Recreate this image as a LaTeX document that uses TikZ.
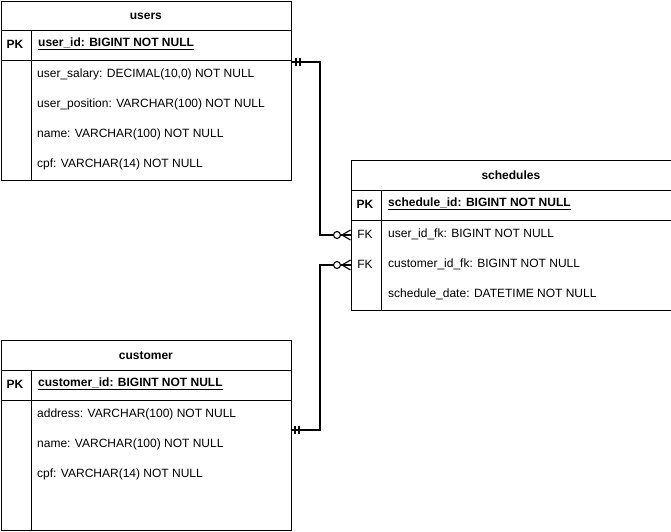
\documentclass[tikz,border=0pt]{standalone}
\usepackage{fontspec}
\setmainfont{Liberation Sans}
\begin{document}
\begin{tikzpicture}[x=1pt,y=-1pt,
  cell/.style={draw=black, line width=0.8pt, inner sep=0pt, anchor=north west},
  tabtitle/.style={cell, font=\fontsize{12}{14}\selectfont\bfseries},
  keytxt/.style={inner sep=0pt, font=\fontsize{12}{14}\selectfont\bfseries},
  fktxt/.style={inner sep=0pt, font=\fontsize{12}{14}\selectfont},
  pktxt/.style={inner sep=0pt, anchor=west, font=\fontsize{12}{14}\selectfont\bfseries},
  fieldtxt/.style={inner sep=0pt, anchor=west, font=\fontsize{12}{14}\selectfont},
  rel/.style={line width=1.4pt, black},
  relmark/.style={line width=1.1pt, black}
]
\useasboundingbox (0,0) rectangle (671,531);

% users
\node[tabtitle, minimum width=290pt, minimum height=29pt] (uT) at (0.5,1) {users};
\node[cell, minimum width=30pt, minimum height=30pt] (uPKk) at (0.5,30) {};
\node[cell, minimum width=260pt, minimum height=30pt] (uPKf) at (30.5,30) {};
\node[cell, minimum width=30pt, minimum height=120pt] (uBk) at (0.5,60) {};
\node[cell, minimum width=260pt, minimum height=120pt] (uBf) at (30.5,60) {};
\node[keytxt] (uPKl) at (15,44) {PK};
\node[pktxt] (uPKt) at (38,44) {\underline{user\_id: BIGINT NOT NULL}};
\node[fieldtxt] (uF1) at (37,74) {user\_salary: DECIMAL(10,0) NOT NULL};
\node[fieldtxt] (uF2) at (37,104) {user\_position: VARCHAR(100) NOT NULL};
\node[fieldtxt] (uF3) at (37,134) {name: VARCHAR(100) NOT NULL};
\node[fieldtxt] (uF4) at (37,164) {cpf: VARCHAR(14) NOT NULL};

% schedules
\node[tabtitle, minimum width=320pt, minimum height=30pt] (sT) at (350.5,160) {schedules};
\node[cell, minimum width=30pt, minimum height=30pt] (sPKk) at (350.5,190) {};
\node[cell, minimum width=290pt, minimum height=30pt] (sPKf) at (380.5,190) {};
\node[cell, minimum width=30pt, minimum height=90pt] (sBk) at (350.5,220) {};
\node[cell, minimum width=290pt, minimum height=90pt] (sBf) at (380.5,220) {};
\node[keytxt] (sPKl) at (365,204) {PK};
\node[pktxt] (sPKt) at (388,204) {\underline{schedule\_id: BIGINT NOT NULL}};
\node[fktxt] (sFK1) at (365,234) {FK};
\node[fktxt] (sFK2) at (365,264) {FK};
\node[fieldtxt] (sF1) at (388,234) {user\_id\_fk: BIGINT NOT NULL};
\node[fieldtxt] (sF2) at (388,264) {customer\_id\_fk: BIGINT NOT NULL};
\node[fieldtxt] (sF3) at (388,294) {schedule\_date: DATETIME NOT NULL};

% customer
\node[tabtitle, minimum width=290pt, minimum height=30pt] (cT) at (0.5,340) {customer};
\node[cell, minimum width=30pt, minimum height=30pt] (cPKk) at (0.5,370) {};
\node[cell, minimum width=260pt, minimum height=30pt] (cPKf) at (30.5,370) {};
\node[cell, minimum width=30pt, minimum height=130pt] (cBk) at (0.5,400) {};
\node[cell, minimum width=260pt, minimum height=130pt] (cBf) at (30.5,400) {};
\node[keytxt] (cPKl) at (15,384) {PK};
\node[pktxt] (cPKt) at (38,384) {\underline{customer\_id: BIGINT NOT NULL}};
\node[fieldtxt] (cF1) at (37,414) {address: VARCHAR(100) NOT NULL};
\node[fieldtxt] (cF2) at (37,444) {name: VARCHAR(100) NOT NULL};
\node[fieldtxt] (cF3) at (37,474) {cpf: VARCHAR(14) NOT NULL};

% connector end points
\coordinate (u1) at (290.5,62);
\coordinate (s1) at (350.5,235);
\coordinate (c1) at (290.5,430);
\coordinate (s2) at (350.5,265);

\draw[rel] (u1) -- (320,62) |- (s1);
\draw[rel] (c1) -- (320,430) |- (s2);

% mandatory one marks
\draw[relmark] (296,58) -- (296,66) (300,58) -- (300,66);
\draw[relmark] (295,426) -- (295,434) (299,426) -- (299,434);

% zero or many marks
\foreach \yy in {235,265} {
  \draw[relmark, fill=white] (337,\yy) circle (3.5);
  \draw[relmark] (350.5,\yy-5) -- (342,\yy) -- (350.5,\yy+5);
}
\end{tikzpicture}
\end{document}
